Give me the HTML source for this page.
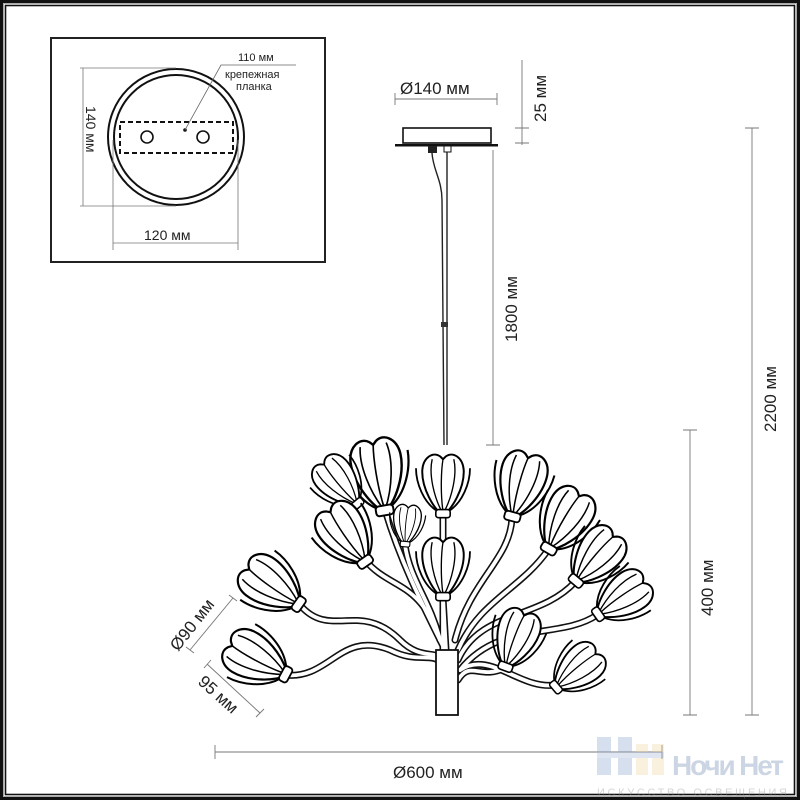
<!DOCTYPE html>
<html><head><meta charset="utf-8"><style>
html,body{margin:0;padding:0;background:#fff}
svg{display:block}
text{font-family:"Liberation Sans","Noto Sans CJK SC",sans-serif;fill:#222}
</style></head><body>
<svg width="800" height="800" viewBox="0 0 800 800" xmlns="http://www.w3.org/2000/svg">
<defs>
<g id="bud">
  <path d="M-6,-4 C-22,-14 -30,-36 -30,-52 M6,-4 C22,-14 30,-36 30,-52" fill="none" stroke="#000" stroke-width="2"/>
  <path d="M0,0 C-10,-6 -24,-30 -23,-50 C-22,-64 -11,-71 -3,-65 L0,-62 L3,-65 C11,-71 22,-64 23,-50 C24,-30 10,-6 0,0Z" fill="#fff" stroke="#000" stroke-width="2.2"/>
  <path d="M-1,-3 C-10,-20 -16,-45 -12,-62 M1,-3 C10,-20 16,-45 12,-62 M0,-4 C-3,-25 -2,-50 0,-62" fill="none" stroke="#000" stroke-width="1.5"/>
  <rect x="-8" y="-6" width="16" height="9" rx="3" fill="#fff" stroke="#000" stroke-width="1.8"/>
</g>
</defs>
<!-- frame -->
<rect x="1.5" y="1.5" width="797" height="797" fill="none" stroke="#111" stroke-width="3"/>
<rect x="3.5" y="3.5" width="793" height="793" fill="none" stroke="#aaa" stroke-width="1"/>
<rect x="5.5" y="5.5" width="789" height="789" fill="none" stroke="#111" stroke-width="1.6"/>

<!-- inset -->
<rect x="51" y="38" width="274" height="224" fill="#fff" stroke="#222" stroke-width="2"/>
<circle cx="176" cy="137" r="68" fill="none" stroke="#111" stroke-width="2"/>
<circle cx="176" cy="137" r="62" fill="none" stroke="#111" stroke-width="2"/>
<rect x="120" y="122" width="113" height="31" fill="none" stroke="#111" stroke-width="2" stroke-dasharray="5,3"/>
<circle cx="147" cy="137" r="6" fill="none" stroke="#111" stroke-width="1.6"/>
<circle cx="203" cy="137" r="6" fill="none" stroke="#111" stroke-width="1.6"/>
<circle cx="185" cy="130" r="1.8" fill="#111"/>
<path d="M185,130 L221,65 L296,65" fill="none" stroke="#666" stroke-width="0.8"/>
<text x="238" y="61" font-size="11">110 мм</text>
<text x="225" y="78" font-size="11">крепежная</text>
<text x="236" y="90" font-size="11">планка</text>
<path d="M80,68 L176,68 M80,206 L176,206 M83,68 L83,206 M113,140 L113,250 M238,140 L238,250 M113,243 L238,243" stroke="#777" stroke-width="0.8" fill="none"/>
<text x="0" y="0" font-size="14" transform="translate(86,106) rotate(90)">140 мм</text>
<text x="144" y="240" font-size="14">120 мм</text>

<!-- canopy -->
<path d="M395,99 L497,99 M395,93 L395,105 M497,93 L497,105" stroke="#777" stroke-width="0.9" fill="none"/>
<text x="400" y="94" font-size="17">Ø140 мм</text>
<path d="M522,60 L522,145 M515,128 L529,128 M515,143 L529,143" stroke="#777" stroke-width="0.9" fill="none"/>
<text x="0" y="0" font-size="17" transform="translate(546,122) rotate(-90)">25 мм</text>
<rect x="403" y="128" width="88" height="15" fill="#fff" stroke="#111" stroke-width="1.6"/>
<rect x="395" y="144" width="103" height="2.5" fill="#111"/>
<rect x="428" y="146" width="9" height="7" fill="#222"/>
<rect x="444" y="146" width="7" height="6" fill="#fff" stroke="#111" stroke-width="1"/>
<path d="M432,153 C433,170 442,180 442,200 L444,445 M447,152 L447,200 L447,445" stroke="#222" stroke-width="1.4" fill="none"/>
<rect x="441" y="322" width="7" height="5" fill="#333"/>

<!-- dims -->
<path d="M493,150 L493,445 M486,445 L500,445" stroke="#777" stroke-width="0.9" fill="none"/>
<text x="0" y="0" font-size="17" transform="translate(517,342) rotate(-90)">1800 мм</text>
<path d="M752,128 L752,715 M745,128 L759,128 M745,715 L759,715" stroke="#777" stroke-width="0.9" fill="none"/>
<text x="0" y="0" font-size="17" transform="translate(776,432) rotate(-90)">2200 мм</text>
<path d="M690,430 L690,715 M683,430 L697,430 M683,715 L697,715" stroke="#777" stroke-width="0.9" fill="none"/>
<text x="0" y="0" font-size="17" transform="translate(713,616) rotate(-90)">400 мм</text>
<path d="M215,752 L662,752 M215,745 L215,759 M662,745 L662,759" stroke="#777" stroke-width="0.9" fill="none"/>
<text x="393" y="778" font-size="17">Ø600 мм</text>
<path d="M233,598 L190,650 M229,595 L237,601 M186,647 L194,653" stroke="#777" stroke-width="0.9" fill="none"/>
<text x="0" y="0" font-size="17" transform="translate(178,652) rotate(-52)">Ø90 мм</text>
<path d="M207,664 L260,713 M204,668 L211,660 M256,717 L264,709" stroke="#777" stroke-width="0.9" fill="none"/>
<text x="0" y="0" font-size="17" transform="translate(197,683) rotate(42)">95 мм</text>

<!-- stems -->
<g fill="none" stroke-linecap="round">
<g stroke="#111" stroke-width="7">
<path d="M300,605 C330,640 360,600 400,640 C420,660 435,650 445,660"/>
<path d="M285,675 C330,680 340,630 390,650 C420,665 430,650 445,665"/>
<path d="M365,560 C390,590 420,580 440,640"/>
<path d="M385,510 C400,560 420,600 445,650"/>
<path d="M443,515 L443,650"/>
<path d="M443,598 L446,650"/>
<path d="M512,518 C510,560 470,580 455,640"/>
<path d="M548,550 C520,590 480,600 458,650"/>
<path d="M575,582 C540,620 480,610 458,660"/>
<path d="M597,615 C560,640 500,620 460,670"/>
<path d="M505,668 C480,680 470,660 458,680"/>
<path d="M555,685 C520,690 490,650 460,670"/>
<path d="M405,545 C410,580 430,600 440,640"/>
</g>
<g stroke="#fff" stroke-width="3.8">
<path d="M300,605 C330,640 360,600 400,640 C420,660 435,650 445,660"/>
<path d="M285,675 C330,680 340,630 390,650 C420,665 430,650 445,665"/>
<path d="M365,560 C390,590 420,580 440,640"/>
<path d="M385,510 C400,560 420,600 445,650"/>
<path d="M443,515 L443,650"/>
<path d="M443,598 L446,650"/>
<path d="M512,518 C510,560 470,580 455,640"/>
<path d="M548,550 C520,590 480,600 458,650"/>
<path d="M575,582 C540,620 480,610 458,660"/>
<path d="M597,615 C560,640 500,620 460,670"/>
<path d="M505,668 C480,680 470,660 458,680"/>
<path d="M555,685 C520,690 490,650 460,670"/>
<path d="M405,545 C410,580 430,600 440,640"/>
</g>
</g>
<rect x="436" y="650" width="22" height="65" fill="#fff" stroke="#111" stroke-width="1.8"/>

<!-- buds -->
<use href="#bud" transform="translate(385,512) rotate(-10) scale(1.1)"/>
<use href="#bud" transform="translate(358,505) rotate(-40) scale(0.85)"/>
<use href="#bud" transform="translate(512,518) rotate(15) scale(1)"/>
<use href="#bud" transform="translate(443,515) rotate(0) scale(0.9)"/>
<use href="#bud" transform="translate(548,550) rotate(30) scale(1)"/>
<use href="#bud" transform="translate(405,545) rotate(5) scale(0.6)"/>
<use href="#bud" transform="translate(366,563) rotate(-35) scale(1)"/>
<use href="#bud" transform="translate(443,598) rotate(0) scale(0.9)"/>
<use href="#bud" transform="translate(575,582) rotate(40) scale(0.95)"/>
<use href="#bud" transform="translate(597,615) rotate(55) scale(0.9)"/>
<use href="#bud" transform="translate(300,605) rotate(-55) scale(1)"/>
<use href="#bud" transform="translate(287,675) rotate(-62) scale(1)"/>
<use href="#bud" transform="translate(505,668) rotate(20) scale(0.9)"/>
<use href="#bud" transform="translate(555,688) rotate(50) scale(0.85)"/>

<!-- logo -->
<g opacity="0.35">
<rect x="597" y="737" width="14" height="38" fill="#8aa4cc"/>
<rect x="618" y="737" width="14" height="38" fill="#8aa4cc"/>
<rect x="636" y="744" width="12" height="31" fill="#f0d8a0"/>
<rect x="652" y="744" width="12" height="31" fill="#f0d8a0"/>
<rect x="597" y="752" width="67" height="6" fill="#a8b8d8"/>
<text x="672" y="775" font-size="28" font-weight="bold" style="fill:#7088b0" textLength="112">Ночи Нет</text>
<text x="597" y="796" font-size="11" style="fill:#888" textLength="190">ИСКУССТВО ОСВЕЩЕНИЯ</text>
</g>
</svg>
</body></html>
